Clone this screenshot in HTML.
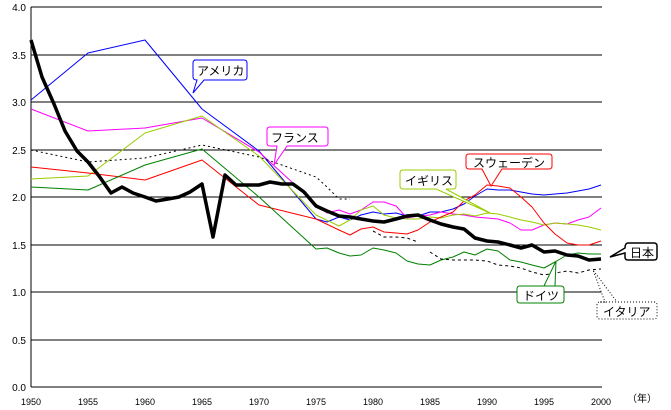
<!DOCTYPE html>
<html><head><meta charset="utf-8"><style>body{margin:0;background:#fff}svg{display:block}text{font-family:"Liberation Sans","Noto Sans CJK JP",sans-serif}</style></head>
<body>
<svg width="671" height="410" viewBox="0 0 671 410">
<g stroke="#000" stroke-width="1">
<line x1="31" y1="7" x2="602" y2="7"/><line x1="31" y1="55" x2="602" y2="55"/><line x1="31" y1="102" x2="602" y2="102"/><line x1="31" y1="150" x2="602" y2="150"/><line x1="31" y1="197" x2="602" y2="197"/><line x1="31" y1="245" x2="602" y2="245"/><line x1="31" y1="292" x2="602" y2="292"/><line x1="31" y1="340" x2="602" y2="340"/><line x1="31" y1="387" x2="602" y2="387"/><line x1="31" y1="7" x2="31" y2="387"/>
</g>
<g font-size="10" fill="#000" text-anchor="end">
<text x="26" y="11">4.0</text><text x="26" y="59">3.5</text><text x="26" y="106">3.0</text><text x="26" y="154">2.5</text><text x="26" y="201">2.0</text><text x="26" y="249">1.5</text><text x="26" y="296">1.0</text><text x="26" y="344">0.5</text><text x="26" y="391">0.0</text>
</g>
<g font-size="9" fill="#000" text-anchor="middle">
<text x="31" y="405">1950</text><text x="88" y="405">1955</text><text x="145" y="405">1960</text><text x="202" y="405">1965</text><text x="259" y="405">1970</text><text x="316" y="405">1975</text><text x="373" y="405">1980</text><text x="430" y="405">1985</text><text x="487" y="405">1990</text><text x="544" y="405">1995</text><text x="601" y="405">2000</text>
<text x="642" y="402" font-size="10">（年）</text>
</g>
<g fill="none" stroke-linejoin="round">
<polyline stroke="#0000ff" points="31,100 88,53 145,40 202,109 259,151 316,219 327,222 339,217 350,220 361,215 373,212 384,214 396,213 407,216 418,216 430,212 441,212 453,209 464,204 475,196 487,189 498,190 510,190 521,192 532,194 544,195 555,194 567,193 578,191 589,189 601,185"/>
<polyline stroke="#ff00ff" points="31,109 88,131 145,128 202,118 259,152 316,204 327,213 339,210 350,214 361,210 373,202 384,202 396,206 407,218 418,216 430,215 441,212 453,214 464,215 475,217 487,218 498,219 510,223 521,230 532,230 544,225 555,223 567,224 578,220 589,217 601,208"/>
<polyline stroke="#99cc00" points="31,179 88,176 145,133 202,116 259,156 316,215 339,226 350,220 361,210 373,206 384,215 396,218 407,219 418,219 430,217 441,218 453,215 464,214 475,216 487,213 498,214 510,217 521,220 532,222 544,225 555,223 567,224 578,225 589,227 601,230"/>
<polyline stroke="#ff0000" points="31,167 88,173 145,180 202,160 259,205 316,219 339,230 350,235 361,229 373,227 384,232 396,233 407,234 418,230 430,222 441,217 453,212 464,201 475,195 487,185 498,186 510,188 521,197 532,207 544,223 555,234 567,243 578,245 589,245 601,241"/>
<polyline stroke="#008000" points="31,187 88,190 145,165 202,149 259,197 316,249 327,248 339,253 350,256 361,255 373,248 384,250 396,253 407,261 418,264 430,265 441,260 453,257 464,252 475,255 487,249 498,251 510,260 521,262 532,265 544,268 555,262 567,255 578,253 589,254 601,254"/>
<polyline stroke="#000" stroke-dasharray="2,3" points="31,150 88,162 145,158 202,145 259,157 316,177 327,187 339,199 350,199"/>
<polyline stroke="#000" stroke-dasharray="3,3" points="373,231 384,237 396,237 407,238 418,242"/>
<polyline stroke="#000" stroke-dasharray="3,3" points="430,252 441,259 453,260 464,260 475,260 487,261 498,265 510,266 521,268 532,272 544,275 555,273 567,271 578,273 589,270 601,269"/>
<polyline stroke="#000" stroke-width="3.5" points="31,40 42,77 54,104 65,131 77,151 88,162 99,176 111,193 122,187 133,193 145,197 156,201 168,199 179,197 190,192 202,184 213,237 225,175 236,185 248,185 259,185 270,182 282,184 293,184 304,192 316,206 327,211 339,216 350,217 361,219 373,221 384,222 396,219 407,216 418,215 430,220 441,224 453,227 464,229 475,238 487,241 498,242 510,245 521,248 532,245 544,252 555,251 567,255 578,256 589,260 601,259"/>
</g>
<g font-size="12" fill="#000">
<path d="M194,60 h50 q3,0 3,3 v14 q0,3 -3,3 h-40 l-11,13 l4,-13 q-4,0 -4,-3 v-14 q0,-3 3,-3z" fill="#fff" stroke="#0000ff"/>
<text x="197" y="75">アメリカ</text>
<path d="M270,127 h55 q3,0 3,3 v13 q0,3 -3,3 h-38 l-13,19 l3,-19 h-7 q-3,0 -3,-3 v-13 q0,-3 3,-3z" fill="#fff" stroke="#ff00ff"/>
<text x="271" y="142">フランス</text>
<path d="M403,170 h50 q3,0 3,3 v13 q0,3 -3,3 h-7 l44,24 l-54,-24 h-33 q-3,0 -3,-3 v-13 q0,-3 3,-3z" fill="#fff" stroke="#99cc00"/>
<text x="405" y="185">イギリス</text>
<path d="M469,154 h80 q3,0 3,3 v9 q0,3 -3,3 h-47 l-11,17 l-9,-17 h-13 q-3,0 -3,-3 v-9 q0,-3 3,-3z" fill="#fff" stroke="#ff0000"/>
<text x="473" y="167">スウェーデン</text>
<path d="M628,243 h26 q3,0 3,3 v11 q0,3 -3,3 h-26 q-3,0 -3,-3 v-4 l-15,4 l15,-9 q0,-5 3,-5z" fill="#fff" stroke="#000" stroke-width="1.5"/>
<text x="630" y="257">日本</text>
<path d="M520,286 h41 q3,0 3,3 v11 q0,3 -3,3 h-41 q-3,0 -3,-3 v-11 q0,-3 3,-3 h24 l12,-25 l-1,25" fill="#fff" stroke="#008000"/>
<text x="523" y="300">ドイツ</text>
<path d="M600,302 h54 q3,0 3,3 v11 q0,3 -3,3 h-54 q-3,0 -3,-3 v-11 q0,-3 3,-3 h5 l-12,-32 l24,32" fill="#fff" stroke="#000" stroke-dasharray="1,2"/>
<text x="603" y="316">イタリア</text>
</g>
</svg>
</body></html>
